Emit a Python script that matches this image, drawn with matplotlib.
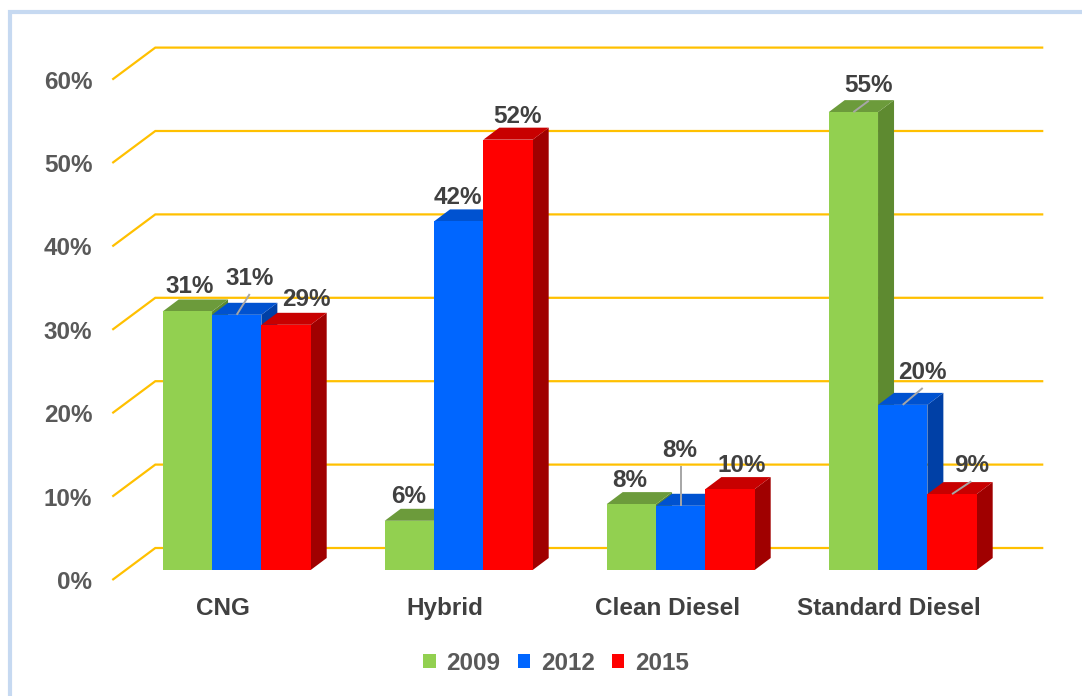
import matplotlib
matplotlib.use("Agg")
import matplotlib.pyplot as plt
from matplotlib.patches import Polygon, Rectangle

# ---------------- data ----------------
categories = ["CNG", "Hybrid", "Clean Diesel", "Standard Diesel"]
years = ["2009", "2012", "2015"]
v2009 = [31.0, 5.9, 7.9, 54.9]
v2012 = [30.6, 41.8, 7.7, 19.8]
v2015 = [29.4, 51.6, 9.7, 9.1]
yticks = [0, 10, 20, 30, 40, 50, 60]

# ---------------- style ----------------
W, H = 1082, 696
PX_X = 222.0     # pixels per category unit
PX_Y = 8.34      # pixels per percentage point
X0_PX, Y0_PX = 236.7, 570.0   # pixel position of category 0 / 0% (bar front plane)

front_col = ["#92D050", "#0066FF", "#FF0000"]
top_col = ["#6C9B3B", "#0052D0", "#C80000"]
side_col = ["#5E8A30", "#0040A6", "#A00000"]
grid_col = "#FFC000"
FONT = "Liberation Sans"
FS = 17.5
bar_w = 0.2222

# depth offsets in pixels (relative to bar front plane)
BAR_D = (16.0, 12.0)
FRONT_D = (-13.4, -10.0)
BACK_D = (29.6, 22.0)

def dxp(px):
    return px / PX_X

def dyp(px):
    return px / PX_Y  # positive px = upwards

# label offsets (px, right / up) relative to front-top-centre of each bar
lab_off = [
    [(2.3, 18.2), (-1.1, 17.5), (-1.6, 17.4), (15.4, 20.4)],
    [(13.0, 29.8), (-0.4, 17.7), (-1.0, 48.5), (20.0, 25.9)],
    [(20.3, 18.8), (9.3, 16.7), (11.3, 17.4), (19.2, 21.8)],
]
leader = [
    [False, False, False, True],
    [True, False, True, True],
    [False, False, False, True],
]

fig = plt.figure(figsize=(W / 100, H / 100), dpi=100)
ax = fig.add_axes([0, 0, 1, 1])
ax.set_xlim(-X0_PX / PX_X, (W - X0_PX) / PX_X)
ax.set_ylim(-(H - Y0_PX) / PX_Y, Y0_PX / PX_Y)
ax.axis("off")

# border
fig.patches.append(Rectangle((10 / W, -0.2), 1.3, 1.2 - 12 / H,
                             transform=fig.transFigure, fill=False,
                             edgecolor="#C6D9F1", lw=3.0, zorder=0))

# gridlines on the back wall + left side wall
xl, xr = -0.5, len(categories) - 0.5
for t in yticks:
    xs = [xl + dxp(FRONT_D[0]), xl + dxp(BACK_D[0]), xr + dxp(BACK_D[0])]
    ys = [t + dyp(FRONT_D[1]), t + dyp(BACK_D[1]), t + dyp(BACK_D[1])]
    ax.plot(xs, ys, color=grid_col, lw=1.6, zorder=1, solid_capstyle="butt",
            solid_joinstyle="miter")
    ax.text(xl + dxp(FRONT_D[0]) - dxp(20), t + dyp(FRONT_D[1]) - dyp(9),
            f"{t}%", ha="right", va="baseline", fontsize=FS, fontweight="bold",
            color="#595959", family=FONT)

# bars
series = [v2009, v2012, v2015]
ddx, ddy = dxp(BAR_D[0]), dyp(BAR_D[1])
handles = []
for s, vals in enumerate(series):
    z = 3 + s
    xs = [i + (s - 1) * bar_w for i in range(len(categories))]
    for x, v in zip(xs, vals):
        x0, x1 = x - bar_w / 2, x + bar_w / 2
        ax.add_patch(Polygon([(x1, 0), (x1, v), (x1 + ddx, v + ddy), (x1 + ddx, ddy)],
                             closed=True, facecolor=side_col[s], edgecolor="none", zorder=z))
        ax.add_patch(Polygon([(x0, v), (x1, v), (x1 + ddx, v + ddy), (x0 + ddx, v + ddy)],
                             closed=True, facecolor=top_col[s], edgecolor="none", zorder=z))
    b = ax.bar(xs, vals, width=bar_w, color=front_col[s], zorder=z + 0.1,
               label=years[s], linewidth=0)
    handles.append(b)
    for i, (x, v) in enumerate(zip(xs, vals)):
        ox, oy = lab_off[s][i]
        lx, ly = x + dxp(ox), v + dyp(oy)
        ax.text(lx, ly, f"{round(v):d}%", ha="center", va="baseline", fontsize=FS,
                fontweight="bold", color="#404040", family=FONT, zorder=z + 0.05)
        if leader[s][i]:
            ax.plot([x + dxp(ox) if abs(ox) > 2 else x, x], [ly - dyp(9), v],
                    color="#A6A6A6", lw=1.4, zorder=z + 0.2, solid_capstyle="butt")

# category labels (at front of floor)
for i, c in enumerate(categories):
    ax.text(i + dxp(FRONT_D[0]), dyp(-(615 - Y0_PX)), c, ha="center", va="baseline",
            fontsize=FS, fontweight="bold", color="#404040", family=FONT)

leg = fig.legend(handles=handles, labels=years, loc="center",
                 bbox_to_anchor=(556 / W, 1 - 663 / H), ncol=3, frameon=False,
                 handlelength=0.5, handleheight=0.5, handletextpad=0.45,
                 columnspacing=0.7, borderpad=0,
                 prop={"family": FONT, "size": FS, "weight": "bold"})
for t in leg.get_texts():
    t.set_color("#595959")

fig.savefig("out.png", dpi=100)
